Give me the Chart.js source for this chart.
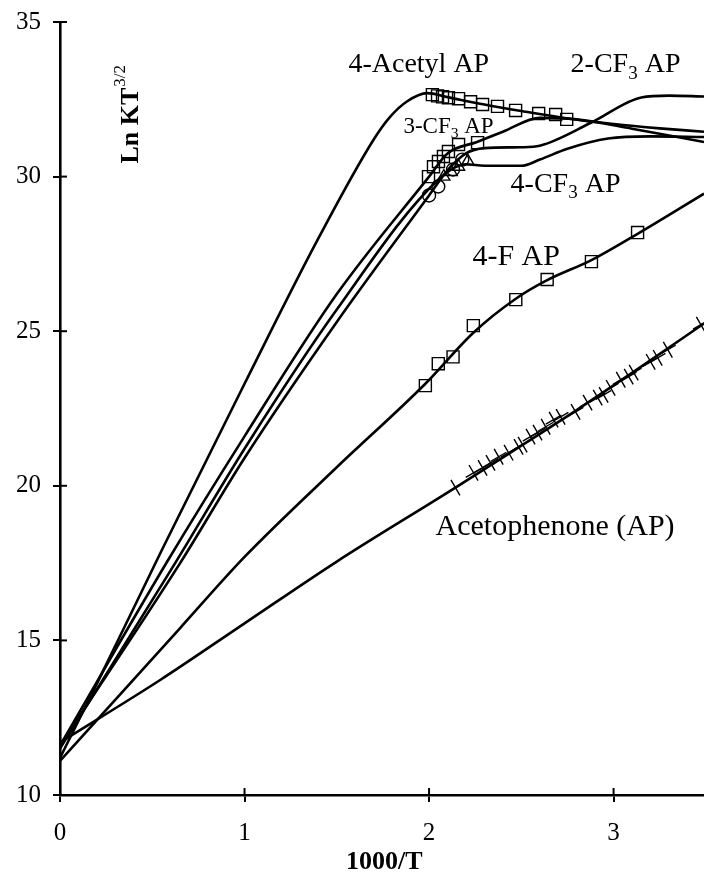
<!DOCTYPE html>
<html>
<head>
<meta charset="utf-8">
<script src="https://cdn.jsdelivr.net/npm/chart.js@4.4.1/dist/chart.umd.min.js"></script>
<style>
html,body{margin:0;padding:0;background:#fff;}
canvas{display:block;}
</style>
</head>
<body>
<canvas id="c" width="704" height="886"></canvas>
<script>
// ---- tick values ----
const xTicks = [0, 1, 2, 3];
const yTicks = [10, 15, 20, 25, 30, 35];

// ---- measured points (markers) ----
const acetylX = [2.018, 2.046, 2.073, 2.105, 2.160, 2.225, 2.290, 2.371, 2.469, 2.594, 2.686, 2.746];
const acetylY = [32.65, 32.61, 32.58, 32.55, 32.52, 32.42, 32.33, 32.27, 32.14, 32.04, 32.01, 31.85];

const cf3meta_X = [1.997, 2.024, 2.051, 2.078, 2.105, 2.160, 2.263];
const cf3meta_Y = [30.00, 30.32, 30.49, 30.65, 30.81, 31.04, 31.10];

const cf3para_X = [2.08, 2.12, 2.16, 2.21];
const cf3para_Y = [30.00, 30.15, 30.32, 30.50];

const cf3ortho_X = [2.00, 2.05, 2.13, 2.18];
const cf3ortho_Y = [29.39, 29.68, 30.23, 30.55];

const fluoroX = [1.98, 2.05, 2.13, 2.24, 2.47, 2.64, 2.88, 3.13];
const fluoroY = [23.24, 23.95, 24.17, 25.18, 26.02, 26.67, 27.25, 28.19];

const apX = [2.143, 2.241, 2.290, 2.333, 2.377, 2.431, 2.485, 2.507, 2.550, 2.588, 2.632, 2.675, 2.713, 2.794, 2.859, 2.914, 2.946, 2.984, 3.039, 3.082, 3.109, 3.201, 3.239, 3.294, 3.473];
const apY = [19.94, 20.42, 20.58, 20.74, 20.94, 21.07, 21.26, 21.33, 21.59, 21.72, 21.91, 22.14, 22.23, 22.39, 22.69, 22.85, 22.94, 23.17, 23.43, 23.53, 23.66, 24.01, 24.14, 24.40, 25.21];

// ---- fitted curves ----
const acetylCurveX = [0, 0.2, 0.55, 1.0, 1.4, 1.7, 1.79, 1.88, 1.99, 2.1, 2.3, 2.5, 2.75, 3.0, 3.25, 3.49];
const acetylCurveY = [11.2, 13.6, 17.9, 23.3, 28.0, 31.2, 31.94, 32.43, 32.70, 32.57, 32.33, 32.12, 31.88, 31.70, 31.56, 31.45];

const cf3metaCurveX = [0, 0.586, 1.0, 1.5, 2.0, 2.1, 2.26, 2.4, 2.6, 2.8, 3.1, 3.49];
const cf3metaCurveY = [11.6, 17.6, 21.6, 26.2, 30.0, 30.75, 31.12, 31.45, 31.90, 31.85, 31.55, 31.12];

const cf3paraCurveX = [0, 0.624, 1.0, 1.5, 2.05, 2.2, 2.3, 2.5, 2.6, 2.75, 2.97, 3.2, 3.49];
const cf3paraCurveY = [11.5, 17.5, 21.2, 25.7, 29.9, 30.4, 30.35, 30.35, 30.55, 30.9, 31.23, 31.30, 31.28];

const cf3orthoCurveX = [0, 0.651, 1.0, 1.5, 2.0, 2.1, 2.2, 2.3, 2.5, 2.6, 2.88, 3.15, 3.3, 3.49];
const cf3orthoCurveY = [11.6, 17.5, 20.9, 25.3, 29.39, 30.2, 30.75, 30.92, 30.95, 31.0, 31.75, 32.56, 32.62, 32.59];

const fluoroCurveX = [0, 0.651, 1.0, 1.5, 1.98, 2.24, 2.47, 2.64, 2.88, 3.13, 3.49];
const fluoroCurveY = [11.1, 15.4, 17.7, 20.6, 23.3, 24.95, 26.05, 26.65, 27.3, 28.15, 29.45];

const apCurveX = [0, 0.543, 1.0, 1.5, 2.143, 2.5, 2.8, 3.1, 3.49];
const apCurveY = [11.7, 13.72, 15.55, 17.55, 19.94, 21.3, 22.45, 23.65, 25.25];

// ---- series names ----
const seriesNames = ['4-Acetyl AP', '3-CF3 AP', '4-CF3 AP', '2-CF3 AP', '4-F AP', 'Acetophenone (AP)'];

function pts(xs, ys) { return xs.map((x, i) => ({x: x, y: ys[i]})); }

const curveStyle = {showLine: true, pointRadius: 0, borderColor: '#000', borderWidth: 2.6, cubicInterpolationMode: 'monotone', fill: false};
const markStyle = {showLine: false, borderColor: '#000', backgroundColor: 'rgba(0,0,0,0)', pointBorderWidth: 1.4};

const datasets = [
  Object.assign({label: seriesNames[0] + ' fit', data: pts(acetylCurveX, acetylCurveY)}, curveStyle),
  Object.assign({label: seriesNames[1] + ' fit', data: pts(cf3metaCurveX, cf3metaCurveY)}, curveStyle),
  Object.assign({label: seriesNames[2] + ' fit', data: pts(cf3paraCurveX, cf3paraCurveY)}, curveStyle),
  Object.assign({label: seriesNames[3] + ' fit', data: pts(cf3orthoCurveX, cf3orthoCurveY)}, curveStyle),
  Object.assign({label: seriesNames[4] + ' fit', data: pts(fluoroCurveX, fluoroCurveY)}, curveStyle),
  Object.assign({label: seriesNames[5] + ' fit', data: pts(apCurveX, apCurveY)}, curveStyle),
  Object.assign({label: seriesNames[0], data: pts(acetylX, acetylY), pointStyle: 'rect', pointRadius: 8.5}, markStyle),
  Object.assign({label: seriesNames[1], data: pts(cf3meta_X, cf3meta_Y), pointStyle: 'rect', pointRadius: 8.5}, markStyle),
  Object.assign({label: seriesNames[2], data: pts(cf3para_X, cf3para_Y), pointStyle: 'triangle', pointRadius: 7}, markStyle),
  Object.assign({label: seriesNames[3], data: pts(cf3ortho_X, cf3ortho_Y), pointStyle: 'circle', pointRadius: 6.5}, markStyle),
  Object.assign({label: seriesNames[4], data: pts(fluoroX, fluoroY), pointStyle: 'rect', pointRadius: 8.5}, markStyle),
  Object.assign({label: seriesNames[5], data: pts(apX, apY), pointStyle: 'cross', pointRadius: 9, rotation: -30}, markStyle)
];

// ---- annotation texts (positions in data units) ----
const annotations = [
  {parts: [['4-Acetyl AP', 0]], x: 1.563, y: 33.37, size: 28},
  {parts: [['2-CF', 0], ['3', 1], [' AP', 0]], x: 2.767, y: 33.37, size: 28},
  {parts: [['3-CF', 0], ['3', 1], [' AP', 0]], x: 1.861, y: 31.42, size: 23},
  {parts: [['4-CF', 0], ['3', 1], [' AP', 0]], x: 2.442, y: 29.51, size: 28},
  {parts: [['4-F AP', 0]], x: 2.235, y: 27.15, size: 30},
  {parts: [['Acetophenone (AP)', 0]], x: 2.035, y: 18.41, size: 30}
];

const SERIF = '"Liberation Serif", "Times New Roman", serif';

const decorPlugin = {
  id: 'decor',
  afterDraw(chart) {
    const c = chart.ctx;
    const xs = chart.scales.x, ys = chart.scales.y;
    c.save();
    // inner halves of crossing tick marks
    c.strokeStyle = '#000';
    c.lineWidth = 2;
    xTicks.forEach(v => {
      const px = xs.getPixelForValue(v);
      c.beginPath(); c.moveTo(px, ys.bottom); c.lineTo(px, ys.bottom - 7); c.stroke();
    });
    yTicks.forEach(v => {
      const py = ys.getPixelForValue(v);
      c.beginPath(); c.moveTo(xs.left, py); c.lineTo(xs.left + 7, py); c.stroke();
    });
    // annotations
    c.fillStyle = '#000';
    c.textBaseline = 'alphabetic';
    c.textAlign = 'left';
    annotations.forEach(a => {
      let px = xs.getPixelForValue(a.x);
      const py = ys.getPixelForValue(a.y);
      a.parts.forEach(p => {
        const sub = p[1] === 1;
        const fs = sub ? a.size * 0.68 : a.size;
        c.font = fs + 'px ' + SERIF;
        c.fillText(p[0], px, py + (sub ? a.size * 0.22 : 0));
        px += c.measureText(p[0]).width;
      });
    });
    // y title (rotated, inside plot)
    c.save();
    c.translate(xs.left + 78, ys.getPixelForValue(32.0));
    c.rotate(-Math.PI / 2);
    c.font = 'bold 26px ' + SERIF;
    const main = 'Ln KT';
    const w1 = c.measureText(main).width;
    c.font = '17px ' + SERIF;
    const w2 = c.measureText('3/2').width;
    const start = -(w1 + w2) / 2;
    c.font = 'bold 26px ' + SERIF;
    c.fillText(main, start, 0);
    c.font = '17px ' + SERIF;
    c.fillText('3/2', start + w1 + 1, -13);
    c.restore();
    // x title
    c.font = 'bold 26px ' + SERIF;
    c.textAlign = 'center';
    c.fillText('1000/T', xs.getPixelForValue(1.757), chart.height - 17);
    c.restore();
  }
};

new Chart(document.getElementById('c'), {
  type: 'scatter',
  data: {datasets: datasets},
  plugins: [decorPlugin],
  options: {
    responsive: false,
    animation: false,
    events: [],
    layout: {autoPadding: false, padding: {top: 22, right: 0, left: 0, bottom: 0}},
    plugins: {legend: {display: false}, tooltip: {enabled: false}},
    scales: {
      x: {
        type: 'linear', min: 0, max: 3.49,
        afterFit(s) { s.height = 91; s.paddingLeft = 0; s.paddingRight = 0; },
        afterBuildTicks(s) { s.ticks = xTicks.map(v => ({value: v})); },
        ticks: {stepSize: 1, includeBounds: false, color: '#000', padding: 16, maxRotation: 0,
                font: {family: SERIF, size: 25}},
        grid: {drawOnChartArea: false, drawTicks: true, tickLength: 7, color: '#000', lineWidth: 2},
        border: {color: '#000', width: 2.6}
      },
      y: {
        type: 'linear', min: 10, max: 35,
        afterFit(s) { s.width = 60; s.paddingTop = 0; s.paddingBottom = 0; },
        afterBuildTicks(s) { s.ticks = yTicks.map(v => ({value: v})); },
        ticks: {stepSize: 5, color: '#000', padding: 12, font: {family: SERIF, size: 25}},
        grid: {drawOnChartArea: false, drawTicks: true, tickLength: 7, color: '#000', lineWidth: 2},
        border: {color: '#000', width: 2.6}
      }
    }
  }
});
</script>
</body>
</html>
